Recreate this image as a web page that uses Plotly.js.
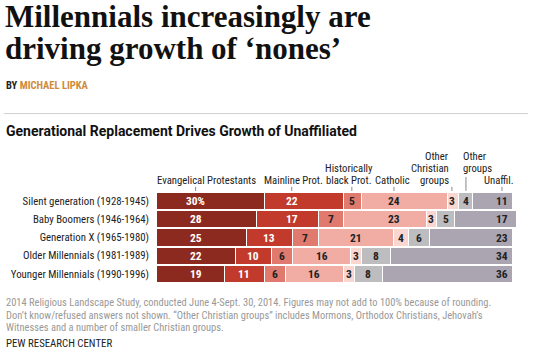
<!DOCTYPE html>
<html>
<head>
<meta charset="utf-8">
<script src="https://cdn.plot.ly/plotly-3.0.1.min.js"></script>
<style>html,body{margin:0;padding:0;background:#fff}#chart{width:538px;height:356px}</style>
</head>
<body>
<div id="chart"></div>
<script>
// ---- data ----
const generations = ['Silent generation (1928-1945)','Baby Boomers (1946-1964)','Generation X (1965-1980)','Older Millennials (1981-1989)','Younger Millennials (1990-1996)'];
const categories = ['Evangelical Protestants','Mainline Prot.','Historically black Prot.','Catholic','Other Christian groups','Other groups','Unaffil.'];
const evangelical    = [30,28,25,22,19];
const mainline       = [22,17,13,10,11];
const histBlack      = [5,7,7,6,6];
const catholic       = [24,23,21,16,16];
const otherChristian = [3,3,4,3,3];
const otherGroups    = [4,5,6,8,8];
const unaffiliated   = [11,17,23,34,36];
const headerLines = [['Evangelical Protestants'],['Mainline Prot.'],['Historically','black Prot.'],['Catholic'],['Other','Christian','groups'],['Other','groups'],['Unaffil.']];

// ---- style / layout config ----
const series = [evangelical, mainline, histBlack, catholic, otherChristian, otherGroups, unaffiliated];
const colors = ['#8c2a1f','#c13a2c','#e07a6f','#f1ada4','#fad6d1','#bdbdbf','#aaa5b0'];
const textColors = ['#ffffff','#ffffff','#222','#222','#222','#222','#222'];
const headerTickAt = [11.0, 37.7, 54.4, 66.1, 82.2, 86.1, 96.1];
const headerTextAt = [13.9, 38.1, 53.6, 65.8, 81.6, 84.9, 95.4];
const headerAnchor = ['center','center','center','center','right','left','center'];
const headerRaise  = [0,0,0,0,0,1,0];

const W = 538, H = 356, ML = 156, MR = 22, MT = 191.8, MB = 73.1;
const PW = W - ML - MR, PH = H - MT - MB;
const px = p => (p - ML) / PW;
const py = p => (H - MB - p) / PH;
const COND = '"Roboto Condensed", "DejaVu Sans Condensed", sans-serif';

const traces = series.map((vals, i) => ({
  type: 'bar', orientation: 'h', name: categories[i],
  x: vals, y: generations,
  marker: {color: colors[i], line: {color: '#ffffff', width: 1}},
  hoverinfo: 'skip', showlegend: false
}));

const annotations = [];
const shapes = [];
// value labels
generations.forEach((g, r) => {
  let start = 0;
  series.forEach((vals, i) => {
    const v = vals[r];
    const end = start + v;
    const t = headerTickAt[i];
    const xpos = (t >= start + 1 && t <= end - 1) ? t : start + v / 2;
    annotations.push({
      xref: 'x', yref: 'y', x: xpos, y: g, xanchor: 'center', yanchor: 'middle',
      text: '<b>' + v + (r === 0 && i === 0 ? '%' : '') + '</b>', showarrow: false,
      font: {family: COND, size: 11.5, color: textColors[i]}
    });
    start = end;
  });
});
// header labels and ticks
const LINE = 11.8;
headerLines.forEach((lines, i) => {
  const bottomBase = 183.5 - headerRaise[i] * LINE;
  lines.forEach((ln, k) => {
    const base = bottomBase - (lines.length - 1 - k) * LINE;
    annotations.push({
      xref: 'x', yref: 'paper', x: headerTextAt[i], y: py(base - 3.7),
      xanchor: headerAnchor[i], yanchor: 'middle', text: ln, showarrow: false, borderpad: 0,
      font: {family: COND, size: 10.7, color: '#222'}
    });
  });
  shapes.push({type: 'line', xref: 'x', yref: 'paper', x0: headerTickAt[i], x1: headerTickAt[i],
    y0: py(190.7), y1: py(headerRaise[i] ? 176.7 : 186.7), line: {color: '#888', width: 1}});
});
// titles and notes
const txt = (text, xp, base, size, family, color) => ({
  xref: 'paper', yref: 'paper', x: px(xp), y: py(base - 0.3465 * size), xanchor: 'left', yanchor: 'middle',
  text: text, showarrow: false, font: {family: family, size: size, color: color}
});
annotations.push(txt('<b>Millennials increasingly are</b>', 3, 26.5, 31, '"Liberation Serif", serif', '#111'));
annotations.push(txt('<b>driving growth of ‘nones’</b>', 3, 59.3, 31, '"Liberation Serif", serif', '#111'));
annotations.push(txt('<b>BY <span style="color:#d08a3c">MICHAEL LIPKA</span></b>', 3.5, 89.2, 10.5, COND, '#222'));
annotations.push(txt('<b>Generational Replacement Drives Growth of Unaffiliated</b>', 4, 135.8, 14, 'Roboto, sans-serif', '#111'));
const notes = ['2014 Religious Landscape Study, conducted June 4-Sept. 30, 2014. Figures may not add to 100% because of rounding.',
  'Don\u2019t know/refused answers not shown. \u201cOther Christian groups\u201d includes Mormons, Orthodox Christians, Jehovah\u2019s',
  'Witnesses and a number of smaller Christian groups.'];
notes.forEach((n, k) => annotations.push(txt(n, 4, 306 + k * 12.7, 10.45, COND, '#999')));
annotations.push(txt('PEW RESEARCH CENTER', 4, 347.7, 10.8, COND, '#222'));
shapes.push({type: 'line', xref: 'paper', yref: 'paper', x0: px(4), x1: px(528), y0: py(113.3), y1: py(113.3), line: {color: '#d0d0d0', width: 1}});

const layout = {
  width: W, height: H, margin: {l: ML, r: MR, t: MT, b: MB, pad: 0},
  paper_bgcolor: '#fff', plot_bgcolor: '#fff',
  barmode: 'stack', bargap: 0.05,
  xaxis: {range: [0, 100], visible: false, fixedrange: true},
  yaxis: {type: 'category', range: [4.5, -0.5], showgrid: false, zeroline: false, showline: false,
    ticks: '', ticklabelstandoff: 6, tickfont: {family: COND, size: 10.8, color: '#222'}, fixedrange: true},
  annotations: annotations, shapes: shapes
};
Plotly.newPlot('chart', traces, layout, {displayModeBar: false, staticPlot: true});
</script>
</body>
</html>
